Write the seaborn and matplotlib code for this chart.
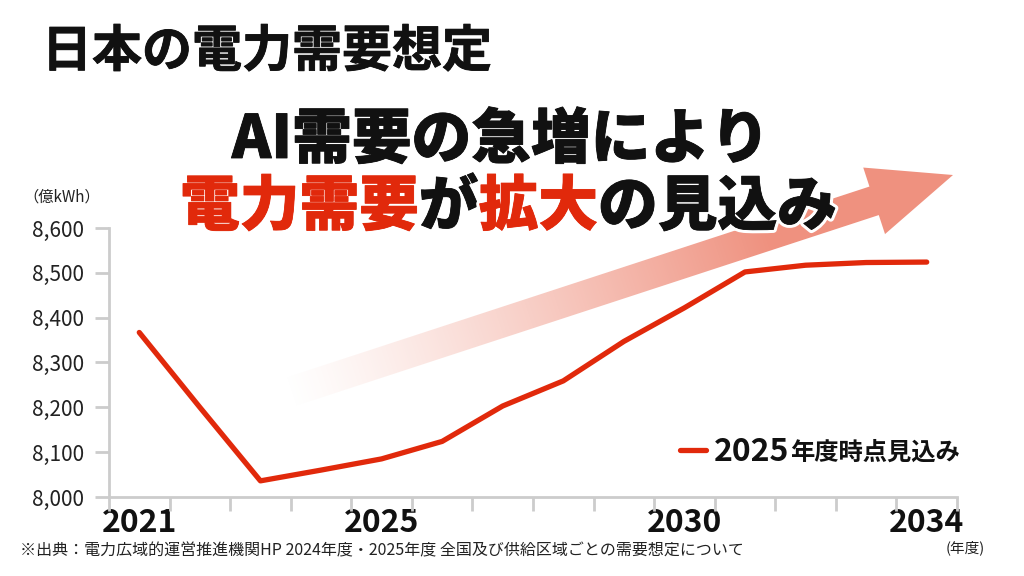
import numpy as np
import pandas as pd
import matplotlib
matplotlib.use('Agg')
import matplotlib.pyplot as plt
import matplotlib.patheffects as pe
from matplotlib import ticker
from matplotlib.patches import Polygon
import seaborn as sns

# data (億kWh)
years = [2021, 2022, 2023, 2024, 2025, 2026, 2027,
         2028, 2029, 2030, 2031, 2032, 2033, 2034]
demand = [8367, 8200, 8036, 8060, 8085, 8124, 8203,
          8259, 8347, 8422, 8502, 8517, 8523, 8524]
year_labels = [2021, 2025, 2030, 2034]
y_ticks = [8000, 8100, 8200, 8300, 8400, 8500, 8600]
series_name = '2025'
series_suffix = '年度時点見込み'

RED = '#E1290B'
SALMON = (0.94, 0.57, 0.50)
GRID_GREY = '#cccccc'
INK = '#111111'

sns.set_theme(style='ticks')
plt.rcParams['font.family'] = ['Noto Sans CJK JP', 'DejaVu Sans']

W, H = 1024, 576
fig = plt.figure(figsize=(W / 100, H / 100), dpi=100)
fig.patch.set_facecolor('white')

# --- decorative gradient arrow (pixel coords, y down) ---
ov = fig.add_axes([0, 0, 1, 1], zorder=1)
tail = np.array([287.0, 393.0])
tip = np.array([953.0, 175.0])
d = tip - tail
L = np.hypot(*d)
u = d / L
n = np.array([-u[1], u[0]])
base = tip - 83 * u
w, h = 15, 35
pts = [tail - w * n, base - w * n, base - h * n, tip,
       base + h * n, base + w * n, tail + w * n]
yy, xx = np.mgrid[0:H, 0:W] + 0.5
t = ((xx - tail[0]) * u[0] + (yy - tail[1]) * u[1]) / (0.72 * L)
img = np.zeros((H, W, 4))
img[..., :3] = SALMON
img[..., 3] = np.clip(t, 0, 1) ** 1.2
im = ov.imshow(img, extent=[0, W, H, 0], interpolation='bilinear', aspect='auto')
poly = Polygon(pts, closed=True, transform=ov.transData,
               facecolor='none', edgecolor='none')
ov.add_patch(poly)
im.set_clip_path(poly)
ov.set_xlim(0, W)
ov.set_ylim(H, 0)
ov.axis('off')

# --- main chart ---
ax = fig.add_axes([109 / W, 1 - 497 / H, 848 / W, 269 / H], zorder=2)
ax.patch.set_visible(False)

df = pd.DataFrame({'year': years, 'demand': demand})
sns.lineplot(data=df, x='year', y='demand', ax=ax, color=RED, linewidth=3.8,
             label=series_name, solid_capstyle='round', solid_joinstyle='round')

ax.set_xlim(years[0] - 0.5, years[-1] + 0.5)
ax.set_ylim(y_ticks[0], y_ticks[-1])
ax.set_yticks(y_ticks)
ax.yaxis.set_major_formatter(ticker.StrMethodFormatter('{x:,.0f}'))
ax.set_xticks(year_labels)
ax.set_xticks([y - 0.5 for y in years] + [years[-1] + 0.5], minor=True)
ax.tick_params(axis='x', which='major', length=0, pad=7, labelsize=23,
               labelcolor=INK)
ax.tick_params(axis='x', which='minor', length=10, width=2, color=GRID_GREY,
               bottom=True)
ax.tick_params(axis='y', which='major', length=10, width=2, color=GRID_GREY,
               pad=8, labelsize=15, labelcolor='#222222')
for lbl in ax.get_xticklabels():
    lbl.set_fontweight('bold')
sns.despine(ax=ax)
for s in ['left', 'bottom']:
    ax.spines[s].set_color(GRID_GREY)
    ax.spines[s].set_linewidth(2)
ax.set_xlabel('')
ax.set_ylabel('')

leg = ax.legend(loc='center left',
                bbox_to_anchor=((680 - 109) / 848, (497 - 452) / 269),
                frameon=False, prop={'size': 23, 'weight': 'bold'},
                handlelength=0.8, handletextpad=0.25, borderpad=0,
                borderaxespad=0)
leg_txt = leg.get_texts()[0]
leg_txt.set_color(INK)
ax.annotate(series_suffix, xy=(1, 0), xycoords=leg_txt, xytext=(1, 2.5),
            textcoords='offset points', ha='left', va='bottom',
            fontsize=17.5, fontweight='bold', color=INK, zorder=6)

# --- texts ---
fig.text(62 / W, 1 - 197 / H, '（億kWh）', ha='center', va='center',
         fontsize=11, color='#222222')
fig.text(965 / W, 1 - 548 / H, '(年度)', ha='center', va='center',
         fontsize=10.5, color='#222222')
fig.text(20 / W, 1 - 551 / H,
         '※出典：電力広域的運営推進機関HP 2024年度・2025年度 全国及び供給区域ごとの需要想定について',
         ha='left', va='center', fontsize=11.5, color='#222222')

fig.text(42 / W, 1 - 52 / H, '日本の電力需要想定', ha='left', va='center',
         fontsize=36, fontweight='bold', color=INK,
         path_effects=[pe.Stroke(linewidth=0.6, foreground=INK), pe.Normal()])


def heavy(col):
    # white halo plus a thin same-colour stroke to mimic a black weight
    return [pe.Stroke(linewidth=5, foreground='white'),
            pe.Stroke(linewidth=0.6, foreground=col), pe.Normal()]


fig.text(501 / W, 1 - 140 / H, 'AI需要の急増により', ha='center', va='center',
         fontsize=43, fontweight='black', color=INK, path_effects=heavy(INK))

em = 43 * 100 / 72
x0 = 180
segments = [('電力需要', RED), ('が', INK), ('拡大', RED), ('の見込み', INK)]
pos = 0
for txt, col in segments:
    fig.text((x0 + pos * em) / W, 1 - 207 / H, txt, ha='left', va='center',
             fontsize=43, fontweight='black', color=col, path_effects=heavy(col))
    pos += len(txt)

fig.canvas.draw()
fig.savefig('out.png', dpi=100, facecolor='white')
